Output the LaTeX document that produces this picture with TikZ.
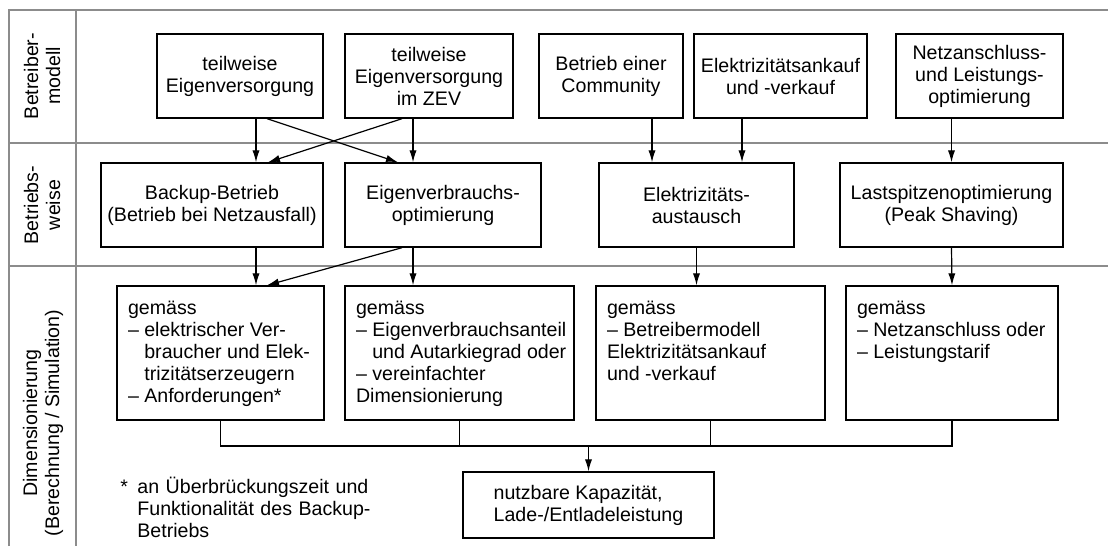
\documentclass[tikz,border=0pt]{standalone}
\usepackage{fontspec}
\setmainfont{Liberation Sans}
\usetikzlibrary{arrows.meta}
\newcommand{\zeilen}[2]{\makebox[#1][l]{\begin{tabular}[t]{@{}l@{}}#2\end{tabular}}}
\tikzset{
  raster/.style={draw=black!45, line width=0.6pt},
  kasten/.style={draw, line width=0.7pt, align=center, minimum height=42pt, inner sep=2pt},
  liste/.style={draw, line width=0.7pt, inner xsep=5.5pt, inner ysep=0pt, text height=14pt, text depth=53pt},
  pfeil/.style={-{Latex[length=6pt,width=3.6pt]}, line width=0.6pt},
  linie/.style={line width=0.6pt}
}
\begin{document}
\begin{tikzpicture}[x=0.5pt, y=-0.5pt, font=\fontsize{9.8}{11}\selectfont]
        \useasboundingbox (0,0) rectangle (1108,546);

        % Raster
        \draw[raster] (9,546) |- (1108,10);
        \draw[raster] (76,10) -- (76,546);
        \draw[raster] (9,143) -- (1108,143);
        \draw[raster] (9,266) -- (1108,266);

        % Zeilentitel
        \node[rotate=90, align=center] (modell) at (42,76) {Betreiber-\\modell};
        \node[rotate=90, align=center] (weise) at (42,205) {Betriebs-\\weise};
        \node[rotate=90, align=center] (dim) at (43,423) {Dimensionierung\\(Berechnung / Simulation)};

        % Betreibermodell
        \node[kasten, minimum width=83pt] (B1) at (240,76) {teilweise\\Eigenversorgung};
        \node[kasten, minimum width=84pt] (B2) at (429,76) {teilweise\\Eigenversorgung\\im ZEV};
        \node[kasten, minimum width=72pt] (B3) at (611,76) {Betrieb einer\\Community};
        \node[kasten, minimum width=86.5pt] (B4) at (780.5,76) {Elektrizitätsankauf\\und -verkauf};
        \node[kasten, minimum width=83.5pt] (B5) at (979.5,76) {Netzanschluss-\\und Leistungs-\\optimierung};

        % Betriebsweise
        \node[kasten, minimum width=111pt] (C1) at (212,205) {Backup-Betrieb\\(Betrieb bei Netzausfall)};
        \node[kasten, minimum width=98pt] (C2) at (443,205) {Eigenverbrauchs-\\optimierung};
        \node[kasten, minimum width=97.5pt] (C3) at (696.5,205) {Elektrizitäts-\\austausch};
        \node[kasten, minimum width=111.5pt] (C4) at (951.5,205) {Lastspitzenoptimierung\\(Peak Shaving)};

        % Dimensionierung
        \node[liste] (D1) at (220.5,353) {\zeilen{92.5pt}{gemäss\\– elektrischer Ver-\\\hphantom{– }braucher und Elek-\\\hphantom{– }trizitätserzeugern\\– Anforderungen*}};
        \node[liste] (D2) at (459.5,353) {\zeilen{103.5pt}{gemäss\\– Eigenverbrauchsanteil\\\hphantom{– }und Autarkiegrad oder\\– vereinfachter\\Dimensionierung}};
        \node[liste] (D3) at (710.5,353) {\zeilen{103.5pt}{gemäss\\– Betreibermodell\\Elektrizitätsankauf\\und -verkauf}};
        \node[liste] (D4) at (952,353) {\zeilen{95pt}{gemäss\\– Netzanschluss oder\\– Leistungstarif}};

        % Ergebnis
        \node[kasten, align=left, minimum width=125.5pt, minimum height=33pt] (E) at (588.5,505) {nutzbare Kapazität,\\Lade-/Entladeleistung};
        \coordinate (sammel) at (588.5,446);

        % Fussnote
        \node[anchor=base west, text width=140pt, align=left, inner sep=0pt] (fussnote) at (120,493) {\makebox[8.5pt][l]{*}an Überbrückungszeit und\\\hspace*{8.5pt}Funktionalität des Backup-\\\hspace*{8.5pt}Betriebs};

        % Pfeile Betreibermodell -> Betriebsweise
        \draw[pfeil] ([xshift=8pt]B1.south) -- ([xshift=8pt]B1.south |- C1.north);
        \draw[pfeil] ([xshift=13.5pt]B1.south) -- ([xshift=-22.5pt]C2.north);
        \draw[pfeil] ([xshift=-13.5pt]B2.south) -- ([xshift=28pt]C1.north);
        \draw[pfeil] ([xshift=-8pt]B2.south) -- ([xshift=-8pt]B2.south |- C2.north);
        \draw[pfeil] ([xshift=20.5pt]B3.south) -- ([xshift=20.5pt]B3.south |- C3.north);
        \draw[pfeil] ([xshift=-19.25pt]B4.south) -- ([xshift=-19.25pt]B4.south |- C3.north);
        \draw[pfeil] (C4.north |- B5.south) -- (C4.north);

        % Pfeile Betriebsweise -> Dimensionierung
        \draw[pfeil] ([xshift=22pt]C1.south) -- ([xshift=22pt]C1.south |- D1.north);
        \draw[pfeil] ([xshift=-20.5pt]C2.south) -- ([xshift=23.25pt]D1.north);
        \draw[pfeil] ([xshift=-15pt]C2.south) -- ([xshift=-15pt]C2.south |- D2.north);
        \draw[pfeil] (C3.south) -- (C3.south |- D3.north);
        \draw[pfeil] (C4.south) -- (D4.north);

        % Sammelleitung
        \draw[linie] (D1.south) |- (D4.south |- sammel) -- (D4.south);
        \draw[linie] (D2.south) -- (D2.south |- sammel);
        \draw[linie] (D3.south) -- (D3.south |- sammel);
        \draw[pfeil] (sammel) -- (E.north);
\end{tikzpicture}
\end{document}
